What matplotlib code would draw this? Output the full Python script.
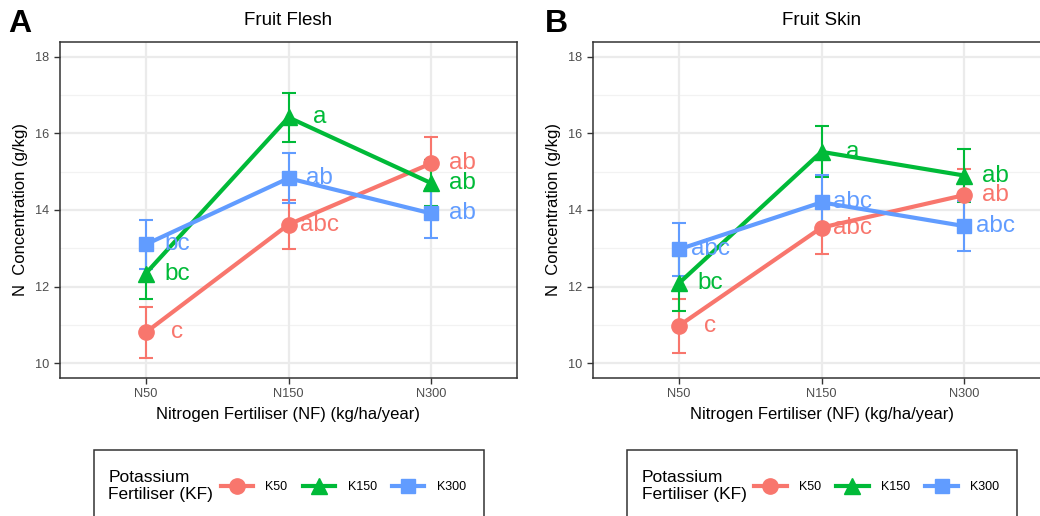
import numpy as np
import matplotlib
matplotlib.use('Agg')
import matplotlib.pyplot as plt
from matplotlib.lines import Line2D
from matplotlib.patches import Rectangle

plt.rcParams['font.family'] = ['Liberation Sans', 'DejaVu Sans']

# nitrogen levels on the x axis, potassium levels as groups
n_levels = ['N50', 'N150', 'N300']
k_levels = ['K50', 'K150', 'K300']
k_colors = ['#F8766D', '#00BA38', '#619CFF']
k_markers = ['o', '^', 's']
k_msize = [11, 12, 10]

# fruit flesh means, errors and letters per K level
flesh_k50 = [10.80, 13.62, 15.22]
flesh_k150 = [12.34, 16.42, 14.70]
flesh_k300 = [13.10, 14.83, 13.91]
flesh_k50_err = [0.66, 0.65, 0.68]
flesh_k150_err = [0.66, 0.65, 0.60]
flesh_k300_err = [0.65, 0.65, 0.64]
flesh_k50_sig = ['c', 'abc', 'ab']
flesh_k150_sig = ['bc', 'a', 'ab']
flesh_k300_sig = ['bc', 'ab', 'ab']

# fruit skin
skin_k50 = [10.97, 13.54, 14.39]
skin_k150 = [12.08, 15.52, 14.90]
skin_k300 = [12.97, 14.20, 13.58]
skin_k50_err = [0.70, 0.70, 0.68]
skin_k150_err = [0.72, 0.67, 0.70]
skin_k300_err = [0.70, 0.72, 0.65]
skin_k50_sig = ['c', 'abc', 'ab']
skin_k150_sig = ['bc', 'a', 'ab']
skin_k300_sig = ['abc', 'abc', 'abc']

W, H = 1040, 516
fig = plt.figure(figsize=(W / 100, H / 100), dpi=100)


def px(x0, y0, w, h):
    return [x0 / W, 1 - (y0 + h) / H, w / W, h / H]


def draw_panel(ax, means, errs, sigs, title):
    x = np.arange(len(n_levels))
    ax.set_facecolor('white')
    for y in [10, 12, 14, 16, 18]:
        ax.axhline(y, color='#EBEBEB', lw=1.6, zorder=0)
    for y in [11, 13, 15, 17]:
        ax.axhline(y, color='#F2F2F2', lw=0.9, zorder=0)
    for xi in x:
        ax.axvline(xi, color='#EBEBEB', lw=1.6, zorder=0)
    # error bars sit under all lines, points on top
    for m, e, c in zip(means, errs, k_colors):
        ax.errorbar(x, m, yerr=e, fmt='none', ecolor=c, elinewidth=1.5,
                    capsize=5, capthick=1.5, zorder=2)
    for m, c in zip(means, k_colors):
        ax.plot(x, m, color=c, lw=3.0, zorder=3)
    for m, c, mk, ms in zip(means, k_colors, k_markers, k_msize):
        ax.plot(x, m, ls='none', marker=mk, ms=ms, color=c, zorder=4)
    for m, s, c in zip(means, sigs, k_colors):
        for xi, yi, lab in zip(x, m, s):
            ax.text(xi + 0.22, yi, lab, color=c, fontsize=17.5,
                    ha='center', va='center', zorder=5)
    ax.set_xlim(-0.6, 2.6)
    ax.set_ylim(9.61, 18.39)
    ax.set_xticks(x)
    ax.set_xticklabels(n_levels)
    ax.set_yticks([10, 12, 14, 16, 18])
    ax.tick_params(colors='#333333', labelcolor='#4D4D4D', labelsize=9.2,
                   length=4, width=1)
    for sp in ax.spines.values():
        sp.set_color('#333333')
        sp.set_linewidth(1.1)
    ax.set_xlabel('Nitrogen Fertiliser (NF) (kg/ha/year)', fontsize=12,
                  labelpad=5)
    ax.set_ylabel('N  Concentration (g/kg)', fontsize=12, labelpad=5)
    ax.set_title(title, fontsize=13.5, pad=12)


def add_legend(cx):
    box = Rectangle(((cx - 195) / W, 1 - 530 / H), 390 / W, 80 / H,
                    transform=fig.transFigure, fill=False,
                    edgecolor='#333333', lw=1.1, clip_on=False)
    fig.patches.append(box)
    fig.text((cx - 180) / W, 1 - 486 / H, 'Potassium\nFertiliser (KF)',
             fontsize=12.5, ha='left', va='center', linespacing=1.15)
    handles = [Line2D([0], [0], color=c, lw=3.0, marker=mk, ms=ms)
               for c, mk, ms in zip(k_colors, k_markers, k_msize)]
    fig.legend(handles, k_levels, ncol=3, frameon=False, fontsize=9,
               loc='center left', bbox_to_anchor=((cx - 68) / W, 1 - 487 / H),
               borderaxespad=0, borderpad=0, handlelength=2.6,
               handletextpad=1.0, columnspacing=1.2)


ax_a = fig.add_axes(px(60, 42, 457, 336))
draw_panel(ax_a, [flesh_k50, flesh_k150, flesh_k300],
           [flesh_k50_err, flesh_k150_err, flesh_k300_err],
           [flesh_k50_sig, flesh_k150_sig, flesh_k300_sig], 'Fruit Flesh')

ax_b = fig.add_axes(px(593, 42, 457, 336))
draw_panel(ax_b, [skin_k50, skin_k150, skin_k300],
           [skin_k50_err, skin_k150_err, skin_k300_err],
           [skin_k50_sig, skin_k150_sig, skin_k300_sig], 'Fruit Skin')

fig.text(8 / W, 1 - 24 / H, 'A', fontsize=23, fontweight='bold',
         ha='left', va='center')
fig.text(545 / W, 1 - 24 / H, 'B', fontsize=23, fontweight='bold',
         ha='left', va='center')

add_legend(288.5)
add_legend(822)

fig.savefig('out.png', dpi=100, facecolor='white')
